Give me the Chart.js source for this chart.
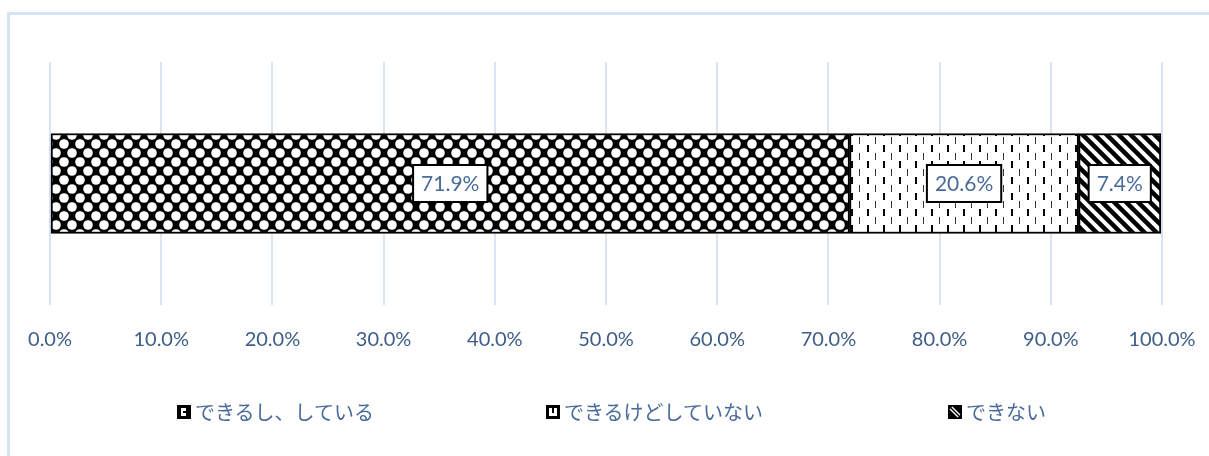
<!DOCTYPE html>
<html>
<head>
<meta charset="utf-8">
<script src="https://cdn.jsdelivr.net/npm/chart.js@4"></script>
<style>
  body { margin: 0; background: #fff; overflow: hidden; }
  #frame { position: absolute; left: 7px; top: 12px; width: 1400px; height: 600px; border: 3px solid #d5e3f4; }
  #wrap { position: absolute; left: 0; top: 0; width: 1209px; height: 456px; }
  .legend-item { position: absolute; top: 397px; display: flex; align-items: center; font: 20px "Noto Sans CJK JP", sans-serif; color: #4a6a9a; white-space: nowrap; }
  .legend-item canvas { margin-right: 4px; }
</style>
</head>
<body>
<div id="frame"></div>
<div id="wrap"><canvas id="chart" width="1209" height="456"></canvas></div>
<div id="legend"></div>
<script>
const categories = [""];
const seriesLabels = ["できるし、している", "できるけどしていない", "できない"];
const seriesValues = [71.9, 20.6, 7.4];
const tickValues = [0, 10, 20, 30, 40, 50, 60, 70, 80, 90, 100];
const legendLeft = [177, 546, 948];

const textBlue = "#4a6a9a";

// fill patterns for the three segments
const makePattern = (w, h, draw, ctx) => {
  const c = document.createElement("canvas");
  c.width = w;
  c.height = h;
  draw(c.getContext("2d"), w, h);
  return ctx.createPattern(c, "repeat");
};

const drawDots = (g, w, h) => {
  g.fillStyle = "#000";
  g.fillRect(0, 0, w, h);
  g.fillStyle = "#fff";
  [[0, 0], [w, 0], [0, h], [w, h], [w / 2, h / 2]].forEach(([x, y]) => {
    g.beginPath();
    g.arc(x, y, 4.8, 0, Math.PI * 2);
    g.fill();
  });
};

const drawDashes = (g, w, h) => {
  g.fillStyle = "#fff";
  g.fillRect(0, 0, w, h);
  g.fillStyle = "#000";
  g.fillRect(3, 1, 2, 7);
  g.fillStyle = "#333";
  g.fillRect(11, 9, 1, 7);
};

const drawStripes = (g, w, h) => {
  g.fillStyle = "#fff";
  g.fillRect(0, 0, w, h);
  g.strokeStyle = "#000";
  g.lineWidth = 4.5;
  [-w, 0, w].forEach((off) => {
    g.beginPath();
    g.moveTo(off - 2, -2);
    g.lineTo(off + w + 2, h + 2);
    g.stroke();
  });
};

const ctx = document.getElementById("chart").getContext("2d");
const patterns = [
  makePattern(16, 18, drawDots, ctx),
  makePattern(16, 16, drawDashes, ctx),
  makePattern(12, 12, drawStripes, ctx),
];

// little legend glyphs, roughly like the office ones
const iconDraws = [
  (g) => {
    g.fillStyle = "#000";
    g.fillRect(0, 0, 14, 14);
    g.fillStyle = "#fff";
    g.fillRect(4, 3, 5, 3);
    g.fillRect(4, 8, 5, 3);
    g.fillRect(4, 3, 2, 8);
  },
  (g) => {
    g.fillStyle = "#000";
    g.fillRect(0, 0, 14, 14);
    g.fillStyle = "#fff";
    g.fillRect(3, 3, 8, 8);
    g.fillStyle = "#000";
    g.fillRect(6, 3, 2, 5);
  },
  (g) => {
    g.fillStyle = "#000";
    g.fillRect(0, 0, 14, 14);
    g.strokeStyle = "#fff";
    g.lineWidth = 4;
    g.beginPath();
    g.moveTo(3, 3);
    g.lineTo(11, 11);
    g.stroke();
    g.strokeStyle = "#000";
    g.lineWidth = 1.5;
    g.beginPath();
    g.moveTo(3, 3);
    g.lineTo(11, 11);
    g.stroke();
  },
];

// value boxes in the middle of every segment
const valueBoxes = {
  id: "valueBoxes",
  afterDatasetsDraw(chart) {
    const c = chart.ctx;
    c.save();
    c.font = '21px "Lato", sans-serif';
    c.textAlign = "center";
    c.textBaseline = "middle";
    chart.data.datasets.forEach((ds, i) => {
      chart.getDatasetMeta(i).data.forEach((bar, j) => {
        const { x, y } = bar.getCenterPoint();
        const text = ds.data[j].toFixed(1) + "%";
        const w = c.measureText(text).width + 16;
        const h = 37;
        c.fillStyle = "#fff";
        c.fillRect(x - w / 2, y - h / 2, w, h);
        c.lineWidth = 2;
        c.strokeStyle = "#000";
        c.strokeRect(x - w / 2, y - h / 2, w, h);
        c.fillStyle = textBlue;
        c.fillText(text, x, y + 1);
      });
    });
    c.restore();
  },
};

new Chart(ctx, {
  type: "bar",
  data: {
    labels: categories,
    datasets: seriesLabels.map((label, i) => ({
      label: label,
      data: [seriesValues[i]],
      backgroundColor: patterns[i],
      borderColor: "#000",
      borderWidth: 2,
      borderSkipped: false,
      barThickness: 100,
    })),
  },
  options: {
    indexAxis: "y",
    responsive: false,
    animation: false,
    layout: { padding: { left: 50, right: 47, top: 62, bottom: 104 } },
    plugins: {
      legend: { display: false },
      tooltip: { enabled: false },
    },
    scales: {
      x: {
        stacked: true,
        min: 0,
        max: 100,
        afterBuildTicks: (scale) => {
          scale.ticks = tickValues.map((v) => ({ value: v }));
        },
        ticks: {
          padding: 0,
          color: "#3e5d88",
          font: { family: "Lato", size: 20 },
          callback: (v) => v.toFixed(1) + "%",
          maxRotation: 0,
        },
        // invisible tick marks just push the labels down
        grid: { color: "#d9e5f4", lineWidth: 2, drawTicks: true, tickLength: 23, tickColor: "rgba(0,0,0,0)" },
        border: { display: false },
      },
      y: { stacked: true, display: false },
    },
  },
  plugins: [valueBoxes],
});

// legend with small pattern icons
const legend = document.getElementById("legend");
seriesLabels.forEach((label, i) => {
  const item = document.createElement("div");
  item.className = "legend-item";
  item.style.left = legendLeft[i] + "px";
  const icon = document.createElement("canvas");
  icon.width = 14;
  icon.height = 14;
  iconDraws[i](icon.getContext("2d"));
  const span = document.createElement("span");
  span.textContent = label;
  item.appendChild(icon);
  item.appendChild(span);
  legend.appendChild(item);
});
</script>
</body>
</html>
